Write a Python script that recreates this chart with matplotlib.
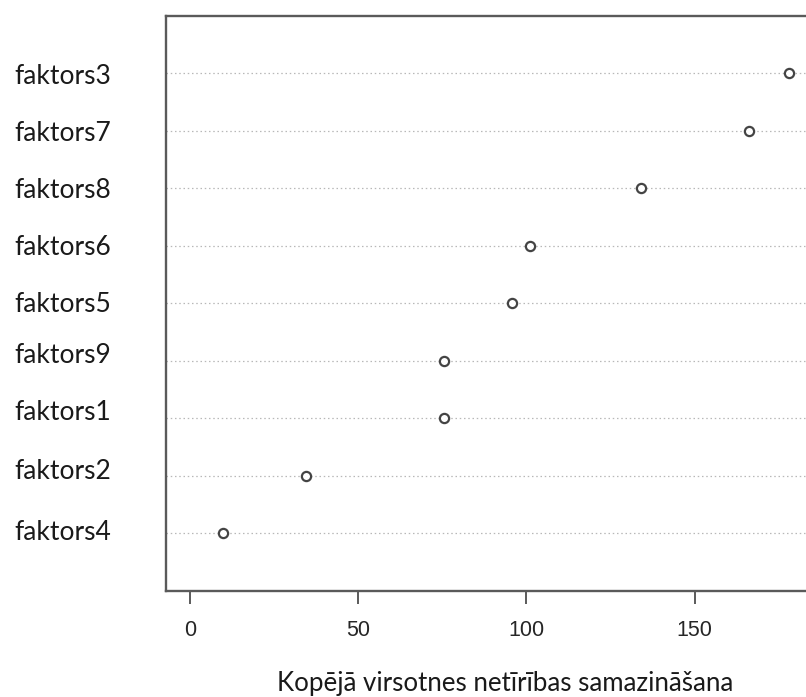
import matplotlib
matplotlib.use("Agg")
import matplotlib.pyplot as plt

# Variable importance (mean decrease in node impurity), ordered bottom to top
factors = ["faktors4", "faktors2", "faktors1", "faktors9", "faktors5",
           "faktors6", "faktors8", "faktors7", "faktors3"]
importance = [9.9, 34.6, 75.4, 75.4, 95.6, 101.0, 134.0, 166.2, 178.1]
x_ticks = [0, 50, 100, 150]
x_label = "Kopējā virsotnes netīrības samazināšana"

W, H = 806, 697
fig = plt.figure(figsize=(W / 100, H / 100), dpi=100)

# plot region in pixels (the right edge runs past the figure)
left_px, right_px, top_px, bottom_px = 166, 813, 15.5, 590.5
ax = fig.add_axes([left_px / W, 1 - bottom_px / H,
                   (right_px - left_px) / W, (bottom_px - top_px) / H])

n = len(factors)
ypos = list(range(1, n + 1))

xmax = max(importance)
pad = 0.04 * xmax
ax.set_xlim(-pad, xmax + pad)
ax.set_ylim(0, n + 1)

for y in ypos:
    ax.axhline(y, color="#b8b8b8", lw=0.9, ls=(0, (1.2, 2.2)), zorder=1)

ax.scatter(importance, ypos, s=44, facecolors="white", edgecolors="#444444",
           linewidths=1.6, zorder=3)

for sp in ax.spines.values():
    sp.set_color("#5a5a5a")
    sp.set_linewidth(1.7)

ax.set_xticks(x_ticks)
ax.set_xticklabels([str(t) for t in x_ticks], fontfamily="Liberation Sans",
                   fontsize=15.5, color="#262626")
ax.tick_params(axis="x", length=9, width=1.4, color="#5a5a5a", pad=12)
ax.set_yticks([])

# row labels, left aligned at the figure edge (small vertical nudges in px)
label_nudge_px = [-1, -4, -6, -5, 2, 2, 3, 3, 4]
for name, y, dy in zip(factors, ypos, label_nudge_px):
    ax.annotate(name, xy=(14 / W, y), xycoords=("figure fraction", "data"),
                xytext=(0, -dy * 0.72), textcoords="offset points",
                ha="left", va="center", fontsize=19,
                fontfamily=["Lato", "DejaVu Sans"], color="#1a1a1a",
                annotation_clip=False)

fig.text(505 / W, 1 - 684 / H, x_label, ha="center", va="center",
         fontsize=18.6, fontfamily=["Lato", "DejaVu Sans"], color="#1a1a1a")

fig.savefig("out.png", dpi=100)
